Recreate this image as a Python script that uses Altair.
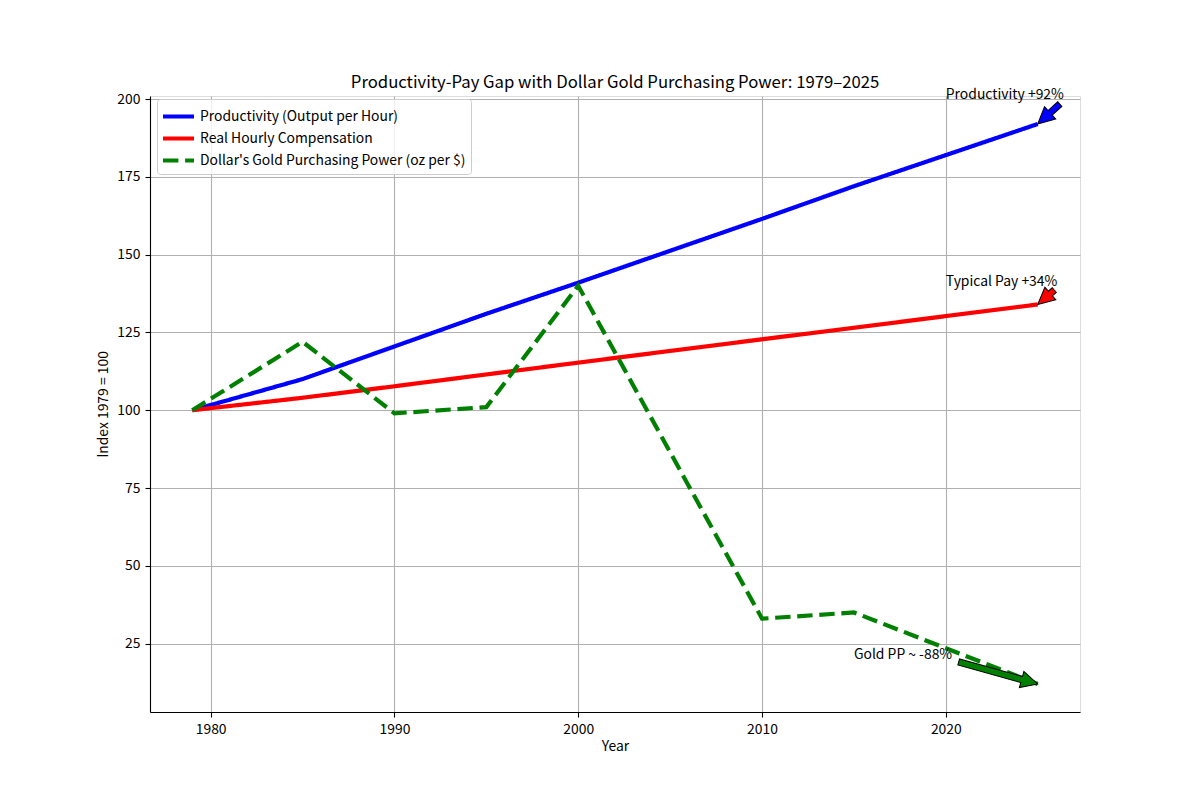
import math
import altair as alt
import pandas as pd

FONT = "Noto Sans CJK JP"

# ---- data ----
years = [1979, 1985, 1990, 1995, 2000, 2010, 2015, 2025]
productivity = [100, 110, 120.5, 131, 141, 161.5, 172, 192]
compensation = [100, 104, 107.7, 111.5, 115.3, 122.8, 126.5, 134]
gold_pp = [100, 122, 99, 101, 140, 33, 35, 12]

series_names = [
    "Productivity (Output per Hour)",
    "Real Hourly Compensation",
    "Dollar's Gold Purchasing Power (oz per $)",
]
series_colors = ["#0000ff", "#ff0000", "#008000"]

x_ticks = [1980, 1990, 2000, 2010, 2020]
y_ticks = [25, 50, 75, 100, 125, 150, 175, 200]

note_texts = ["Productivity +92%", "Typical Pay +34%", "Gold PP ~ -88%"]
note_x = [2020, 2020, 2015]
note_y = [200, 140, 20]
arrow_tip_x = [2025, 2025, 2025]
arrow_tip_y = [192, 134, 12]
arrow_tail_x = [2026.2, 2025.9, 2020.7]
arrow_tail_y = [198.4, 138.6, 19.1]

# ---- layout / scale settings ----
W, H = 930, 616
X_DOMAIN = [1976.7, 2027.3]
Y_DOMAIN = [3, 201]


def px(x):
    return (x - X_DOMAIN[0]) / (X_DOMAIN[1] - X_DOMAIN[0]) * W


def py(y):
    return H - (y - Y_DOMAIN[0]) / (Y_DOMAIN[1] - Y_DOMAIN[0]) * H


def arrow_shape(length):
    hl = min(16.7, length)
    hw = 8.35
    tw = 3.1
    return (f"M0,0L{-hl:.2f},{-hw:.2f}L{-hl:.2f},{-tw:.2f}L{-length:.2f},{-tw:.2f}"
            f"L{-length:.2f},{tw:.2f}L{-hl:.2f},{tw:.2f}L{-hl:.2f},{hw:.2f}Z")


rows = []
for name, vals in zip(series_names, [productivity, compensation, gold_pp]):
    for yr, v in zip(years, vals):
        rows.append({"year": yr, "value": v, "series": name})
lines_df = pd.DataFrame(rows)

arrow_rows = []
for tx, ty, ax_, ay_, col in zip(arrow_tip_x, arrow_tip_y, arrow_tail_x, arrow_tail_y, series_colors):
    dx = px(tx) - px(ax_)
    dy = py(ty) - py(ay_)
    length = math.hypot(dx, dy)
    ang = math.degrees(math.atan2(dy, dx)) % 360
    arrow_rows.append({"x": tx, "y": ty, "shape": arrow_shape(length), "angle": ang, "color": col})
arrows_df = pd.DataFrame(arrow_rows)

notes_df = pd.DataFrame({"x": note_x, "y": note_y, "text": note_texts})

axis_common = dict(
    grid=True, gridColor="#b0b0b0", gridWidth=1.1,
    domainColor="black", domainWidth=1.1,
    tickColor="black", tickSize=5, tickWidth=1.1,
    labelFont=FONT, labelFontSize=13.9, labelColor="black", labelPadding=5,
    titleFont=FONT, titleFontSize=13.9, titleFontWeight="normal", titleColor="black",
)

legend = alt.Legend(
    title=None, orient="none", legendX=7, legendY=3,
    fillColor="rgba(255,255,255,0.8)", strokeColor="#cccccc", cornerRadius=3,
    padding=5, labelFont=FONT, labelFontSize=13.9, labelColor="black",
    symbolType="M-1.55,0H1.55", symbolSize=400, symbolStrokeWidth=4.2,
    symbolOffset=4, labelOffset=9, rowPadding=1, labelLimit=400,
)

lines = alt.Chart(lines_df).mark_line(strokeWidth=4.2).encode(
    x=alt.X("year:Q", scale=alt.Scale(domain=X_DOMAIN, nice=False, zero=False),
            axis=alt.Axis(values=x_ticks, format="d", title="Year", titlePadding=4, **axis_common)),
    y=alt.Y("value:Q", scale=alt.Scale(domain=Y_DOMAIN, nice=False, zero=False),
            axis=alt.Axis(values=y_ticks, format="d", title="Index 1979 = 100", titlePadding=6, **axis_common)),
    color=alt.Color("series:N", scale=alt.Scale(domain=series_names, range=series_colors), legend=legend),
    strokeDash=alt.StrokeDash("series:N", scale=alt.Scale(domain=series_names, range=[[1, 0], [1, 0], [15.4, 6.7]]), legend=legend),
)

arrows = alt.Chart(arrows_df).mark_point(
    filled=True, size=4, stroke="black", strokeWidth=1, opacity=1, fillOpacity=1, strokeOpacity=1
).encode(
    x=alt.X("x:Q"),
    y=alt.Y("y:Q"),
    shape=alt.Shape("shape:N", scale=None),
    angle=alt.Angle("angle:Q", scale=None),
    fill=alt.Fill("color:N", scale=None),
)

notes = alt.Chart(notes_df).mark_text(
    align="left", baseline="alphabetic", font=FONT, fontSize=13.9, color="black"
).encode(x=alt.X("x:Q"), y=alt.Y("y:Q"), text="text:N")

chart = alt.layer(lines, arrows, notes).properties(
    width=W, height=H,
    title=alt.TitleParams(
        "Productivity-Pay Gap with Dollar Gold Purchasing Power: 1979–2025",
        font=FONT, fontSize=16.7, fontWeight="normal", color="black",
        anchor="middle", offset=-17, baseline="alphabetic",
    ),
    padding={"left": 142, "top": 88, "right": 112, "bottom": 80},
    autosize=alt.AutoSizeParams(type="none"),
).configure_view(stroke="black", strokeWidth=1.1).configure(background="white")

chart.save("out.html", embed_options={"renderer": "svg", "actions": False})
